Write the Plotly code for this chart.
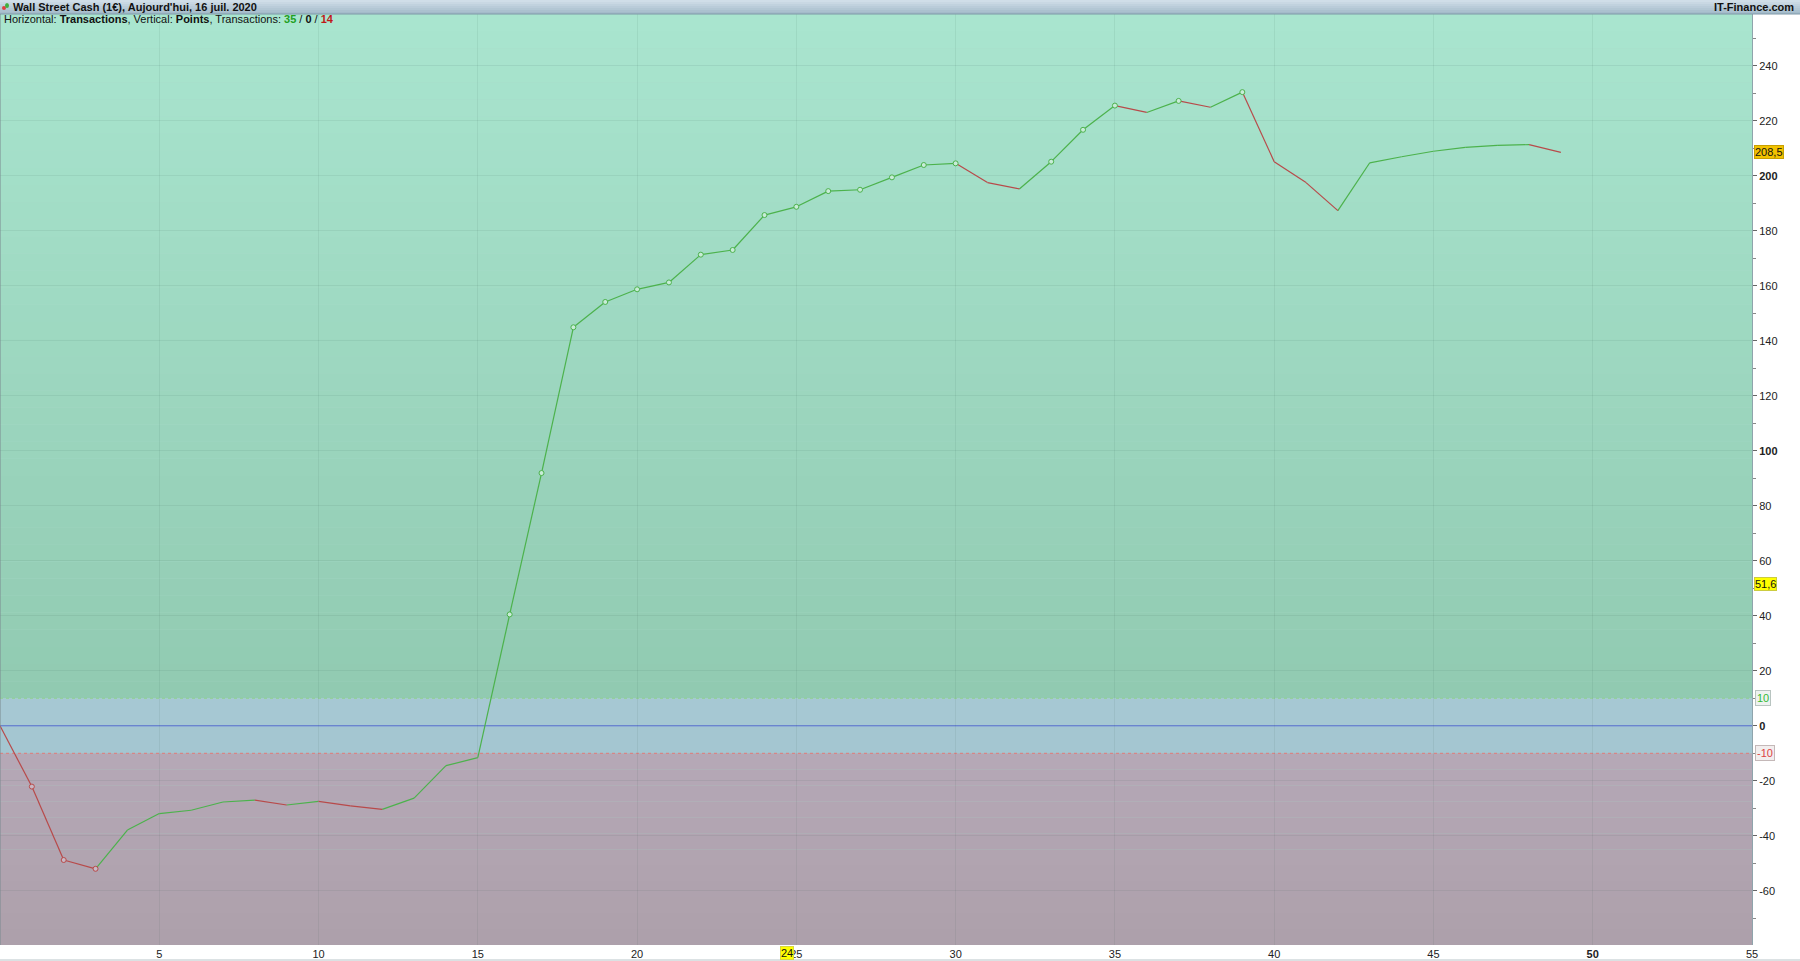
import plotly.graph_objects as go

# ---------------- data ----------------
trade_index = list(range(50))
points = [0, -22.1, -48.8, -52.0, -37.9, -31.9, -30.7, -27.7, -27.0, -28.8,
          -27.5, -29.1, -30.4, -26.3, -14.5, -11.6, 40.5, 91.9, 144.9, 154.1,
          158.7, 161.2, 171.3, 173.0, 185.7, 188.7, 194.4, 194.9, 199.4, 203.9,
          204.5, 197.5, 195.2, 205.1, 216.7, 225.5, 223.0, 227.2, 224.9, 230.4,
          205.1, 197.5, 187.3, 204.7, 206.9, 208.9, 210.3, 211.0, 211.3, 208.5]
y_tick_vals = [-60, -40, -20, 0, 20, 40, 60, 80, 100, 120, 140, 160, 180, 200, 220, 240]
y_bold_ticks = [0, 100, 200]
x_tick_vals = [5, 10, 15, 20, 25, 30, 35, 40, 45, 50, 55]
x_bold_ticks = [50]
band_upper = 10
band_lower = -10
last_value = 208.5
last_value_text = "208,5"
mean_value = 51.6
mean_value_text = "51,6"
x_marker_value = 24.7
x_marker_text = "24"
title_text = "Wall Street Cash (1€), Aujourd'hui, 16 juil. 2020"
site_text = "IT-Finance.com"

# ---------------- geometry ----------------
W, H = 1800, 961
PL, PR, PT, PB = 0, 1752, 14, 945
Y_RANGE = [-79.7, 258.8]
X_RANGE = [0, 55]
FONT = "Liberation Sans, Arial, sans-serif"

def px_x(px):
    return (px - PL) / (PR - PL)

def px_y(py):
    return (PB - py) / (PB - PT)

GREEN = "#4cb24c"
RED = "#b84a4a"

# segments coloured by direction
gx, gy, rx, ry = [], [], [], []
n_up = n_down = 0
for i in range(1, len(points)):
    if points[i] >= points[i - 1]:
        gx += [trade_index[i - 1], trade_index[i], None]
        gy += [points[i - 1], points[i], None]
        n_up += 1
    else:
        rx += [trade_index[i - 1], trade_index[i], None]
        ry += [points[i - 1], points[i], None]
        n_down += 1

# markers on new extremes
hx, hy, lx, ly = [], [], [], []
run_max = points[0]
run_min = points[0]
for i in range(1, len(points)):
    if points[i] > run_max:
        run_max = points[i]
        hx.append(trade_index[i]); hy.append(points[i])
    if points[i] < run_min:
        run_min = points[i]
        lx.append(trade_index[i]); ly.append(points[i])

fig = go.Figure()
fig.add_trace(go.Scatter(x=gx, y=gy, mode="lines", line=dict(color=GREEN, width=1.2),
                         hoverinfo="skip", showlegend=False))
fig.add_trace(go.Scatter(x=rx, y=ry, mode="lines", line=dict(color=RED, width=1.2),
                         hoverinfo="skip", showlegend=False))
fig.add_trace(go.Scatter(x=hx, y=hy, mode="markers",
                         marker=dict(symbol="circle", size=5, color="#c8ecd8",
                                     line=dict(color=GREEN, width=1)),
                         hoverinfo="skip", showlegend=False))
fig.add_trace(go.Scatter(x=lx, y=ly, mode="markers",
                         marker=dict(symbol="circle", size=5, color="#c8b8c4",
                                     line=dict(color=RED, width=1)),
                         hoverinfo="skip", showlegend=False))

shapes = []

def lerp(c0, c1, t):
    return "rgb(%d,%d,%d)" % tuple(round(a + (b - a) * t) for a, b in zip(c0, c1))

def gradient_band(y0, y1, c_bottom, c_top, n):
    for k in range(n):
        a = y0 + (y1 - y0) * k / n
        b = y0 + (y1 - y0) * (k + 1) / n
        shapes.append(dict(type="rect", xref="x", yref="y", x0=X_RANGE[0], x1=X_RANGE[1],
                           y0=a, y1=b, fillcolor=lerp(c_bottom, c_top, (k + 0.5) / n),
                           line=dict(width=0), layer="below"))

gradient_band(band_upper, Y_RANGE[1], (145, 202, 177), (169, 229, 207), 40)
gradient_band(band_lower, band_upper, (163, 197, 208), (167, 201, 212), 2)
gradient_band(Y_RANGE[0], band_lower, (173, 160, 171), (181, 168, 182), 12)

# zero / band lines
shapes.append(dict(type="line", xref="x", yref="y", x0=X_RANGE[0], x1=X_RANGE[1], y0=0, y1=0,
                   line=dict(color="#5a6ee0", width=1), layer="below"))
shapes.append(dict(type="line", xref="x", yref="y", x0=X_RANGE[0], x1=X_RANGE[1],
                   y0=band_upper, y1=band_upper,
                   line=dict(color="#8fd08f", width=1, dash="dot"), layer="below"))
shapes.append(dict(type="line", xref="x", yref="y", x0=X_RANGE[0], x1=X_RANGE[1],
                   y0=band_lower, y1=band_lower,
                   line=dict(color="#e07a7a", width=1, dash="dot"), layer="below"))

# header bar (gradient)
hb_top, hb_bot = 0, PT
nb = 7
for k in range(nb):
    a = hb_top + (hb_bot - hb_top) * k / nb
    b = hb_top + (hb_bot - hb_top) * (k + 1) / nb
    shapes.append(dict(type="rect", xref="paper", yref="paper", x0=px_x(0), x1=px_x(W),
                       y0=px_y(b), y1=px_y(a),
                       fillcolor=lerp((212, 225, 234), (160, 184, 200), (k + 0.5) / nb),
                       line=dict(width=0), layer="above"))
shapes.append(dict(type="line", xref="paper", yref="paper", x0=px_x(0), x1=px_x(W),
                   y0=px_y(PT), y1=px_y(PT), line=dict(color="#7f98a8", width=1), layer="above"))
# icon
shapes.append(dict(type="circle", xref="paper", yref="paper", x0=px_x(2), x1=px_x(6),
                   y0=px_y(10), y1=px_y(6), fillcolor="#e04040", line=dict(width=0), layer="above"))
shapes.append(dict(type="circle", xref="paper", yref="paper", x0=px_x(5), x1=px_x(9),
                   y0=px_y(8), y1=px_y(3), fillcolor="#40b040", line=dict(width=0), layer="above"))
# left border
shapes.append(dict(type="line", xref="paper", yref="paper", x0=0, x1=0, y0=0, y1=1,
                   line=dict(color="#7a8a90", width=1), layer="above"))
# bottom border of figure
shapes.append(dict(type="line", xref="paper", yref="paper", x0=px_x(0), x1=px_x(W),
                   y0=px_y(960), y1=px_y(960), line=dict(color="#b8c4c8", width=1), layer="above"))

annotations = [
    dict(xref="paper", yref="paper", x=px_x(11), y=px_y(6.5), xanchor="left", yanchor="middle",
         text="<b>" + title_text + "</b>", showarrow=False,
         font=dict(family=FONT, size=11, color="#111")),
    dict(xref="paper", yref="paper", x=px_x(1796), y=px_y(6.5), xanchor="right", yanchor="middle",
         text="<b>" + site_text + "</b>", showarrow=False,
         font=dict(family=FONT, size=11, color="#111")),
    dict(xref="paper", yref="paper", x=px_x(2), y=px_y(19.5), xanchor="left", yanchor="middle",
         text=("Horizontal: <b>Transactions</b>, Vertical: <b>Points</b>, Transactions: "
               "<b><span style='color:#22a022'>%d</span></b> / <b>0</b> / "
               "<b><span style='color:#c01818'>%d</span></b>") % (n_up, n_down),
         showarrow=False, font=dict(family=FONT, size=11, color="#111")),
    # right axis boxes
    dict(xref="paper", yref="y", x=px_x(1754), y=last_value, xanchor="left", yanchor="middle",
         text=last_value_text, showarrow=False, bgcolor="#f2c200", bordercolor="#c8a000",
         borderwidth=1, borderpad=0, font=dict(family=FONT, size=11, color="#111")),
    dict(xref="paper", yref="y", x=px_x(1754), y=mean_value, xanchor="left", yanchor="middle",
         text=mean_value_text, showarrow=False, bgcolor="#ffff00", bordercolor="#cccc40",
         borderwidth=1, borderpad=0, font=dict(family=FONT, size=11, color="#111")),
    dict(xref="paper", yref="y", x=px_x(1755), y=band_upper, xanchor="left", yanchor="middle",
         text=str(band_upper), showarrow=False, bgcolor="#eef2f0", bordercolor="#b8c4c0",
         borderwidth=1, borderpad=1, font=dict(family=FONT, size=11, color="#33bb33")),
    dict(xref="paper", yref="y", x=px_x(1755), y=band_lower, xanchor="left", yanchor="middle",
         text=str(band_lower), showarrow=False, bgcolor="#f2eeee", bordercolor="#c4b8b8",
         borderwidth=1, borderpad=1, font=dict(family=FONT, size=11, color="#dd4444")),
    dict(xref="x", yref="paper", x=x_marker_value, y=px_y(953), xanchor="center", yanchor="middle",
         text=x_marker_text, showarrow=False, bgcolor="#ffff00", bordercolor="#d8d840",
         borderwidth=1, borderpad=0, font=dict(family=FONT, size=11, color="#111")),
]

y_tick_text = [("<b>%d</b>" % v) if v in y_bold_ticks else str(v) for v in y_tick_vals]
x_tick_text = [("<b>%d</b>" % v) if v in x_bold_ticks else str(v) for v in x_tick_vals]

fig.update_layout(
    width=W, height=H,
    margin=dict(l=PL, r=W - PR, t=PT, b=H - PB, pad=0),
    paper_bgcolor="white", plot_bgcolor="#a8d8c8",
    font=dict(family=FONT, size=11, color="#222"),
    shapes=shapes, annotations=annotations,
    showlegend=False, hovermode=False,
)
fig.update_xaxes(range=X_RANGE, tickvals=x_tick_vals, ticktext=x_tick_text,
                 showgrid=True, gridcolor="rgba(40,80,70,0.08)", gridwidth=1,
                 zeroline=False, showline=False, ticks="", ticklabelstandoff=1,
                 tickfont=dict(family=FONT, size=11, color="#222"))
fig.update_yaxes(range=Y_RANGE, side="right", tickvals=y_tick_vals, ticktext=y_tick_text,
                 showgrid=True, gridcolor="rgba(40,80,70,0.08)", gridwidth=1,
                 zeroline=False, showline=True, linecolor="#8fa4ac", linewidth=1,
                 ticks="outside", ticklen=4, tickcolor="#666",
                 minor=dict(dtick=10, tick0=0, ticks="outside", ticklen=3, tickcolor="#888", showgrid=False),
                 tickfont=dict(family=FONT, size=11, color="#222"))

fig.write_html("out.html", config={"displayModeBar": False},
               post_script="document.body.style.margin='0';document.body.style.padding='0';"
                           "document.body.style.overflow='hidden';")
